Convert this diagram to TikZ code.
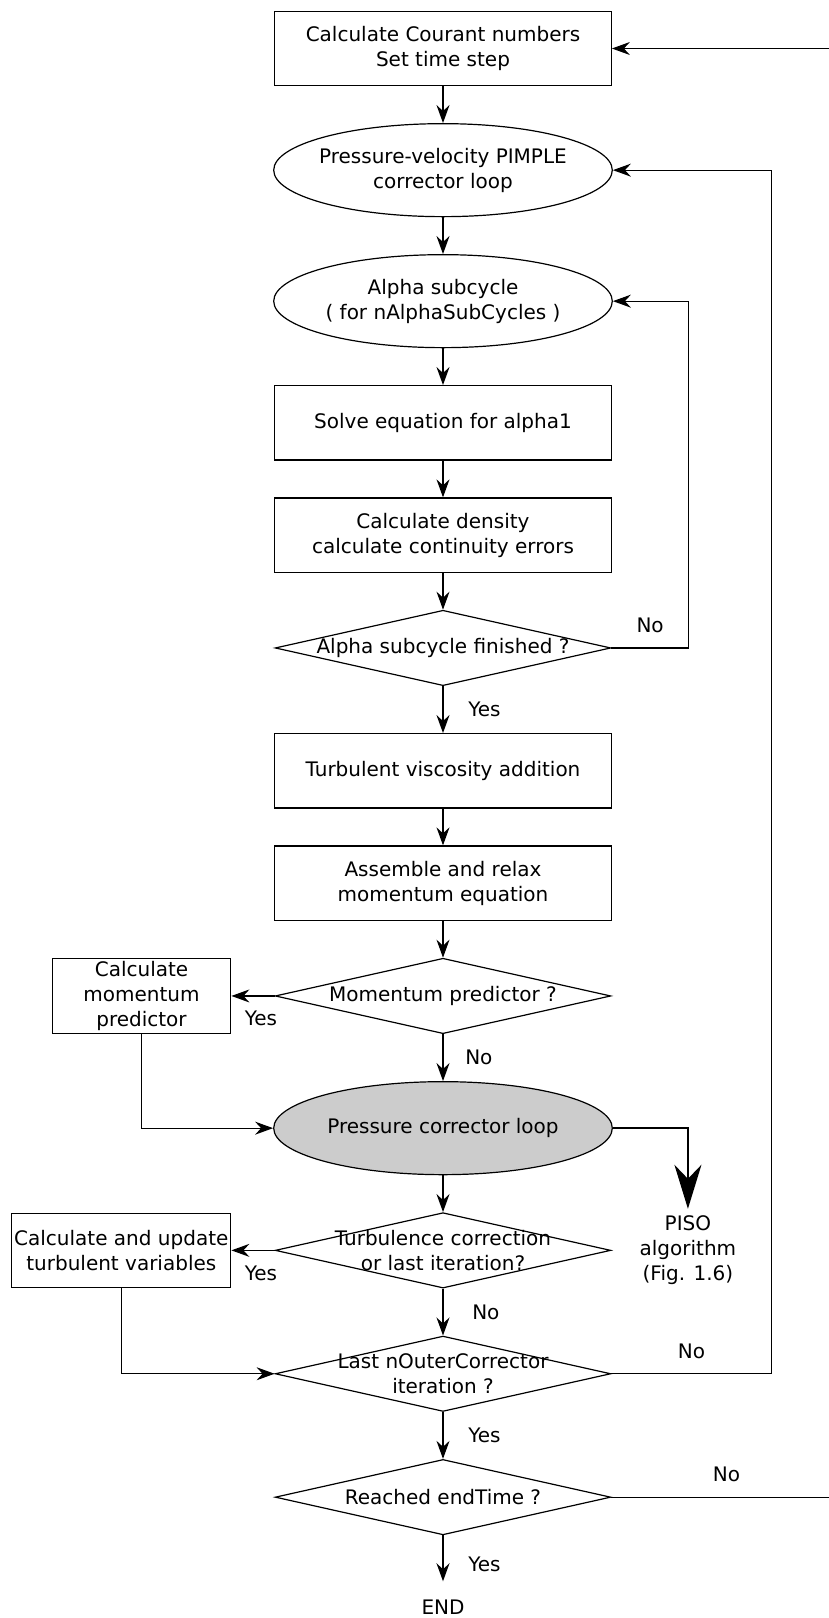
\documentclass[tikz,border=0pt]{standalone}
\usepackage{fontspec}
\setmainfont{DejaVu Sans}
\usetikzlibrary{arrows.meta,shapes.geometric,positioning}
\definecolor{loopgray}{RGB}{204,204,204}

\begin{document}
\begin{tikzpicture}[x=0.5pt, y=-0.5pt, node distance={18.4pt}, line width=0.6pt,
    font=\fontsize{10}{12.4}\selectfont,
    box/.style = {draw, rectangle, align=center, inner sep=1pt, minimum width=168.3pt, minimum height=37.15pt},
    oval/.style = {draw, ellipse, align=center, inner xsep=-3pt, inner ysep=0pt, minimum width=169.3pt, minimum height=46.5pt},
    decision/.style = {draw, diamond, inner sep=0pt, minimum width=167.8pt, minimum height=37.7pt, label={[align=center]center:#1}},
    arr/.style = {-{Stealth[length=9pt, width=6.5pt, inset=3pt]}},
    bigarr/.style = {line width=1pt, -{Stealth[length=22pt, width=13.5pt, inset=7pt]}}]
            \useasboundingbox (0,0) rectangle (829,1618);
            \clip (0,0) rectangle (829,1618);

            \node[box] (courant) at (443,48.5) {Calculate Courant numbers\\Set time step};
            \node[oval] (pimple) [below=of courant] {Pressure-velocity PIMPLE\\corrector loop};
            \node[oval] (alpha) [below=of pimple] {Alpha subcycle\\( for nAlphaSubCycles )};
            \node[box] (solve) [below=of alpha] {Solve equation for alpha1};
            \node[box] (density) [below=of solve] {Calculate density\\calculate continuity errors};
            \node[decision={Alpha subcycle finished ?}] (alphafin) [below=of density] {};
            \node[box] (turbvisc) [below=23.4pt of alphafin] {Turbulent viscosity addition};
            \node[box] (assemble) [below=of turbvisc] {Assemble and relax\\momentum equation};
            \node[decision={Momentum predictor ?}] (mompred) [below=of assemble] {};
            \node[box, minimum width=89.3pt] (calcmom) [left=21.6pt of mompred] {Calculate\\momentum\\predictor};
            \node[oval, fill=loopgray] (pressure) [below=23.4pt of mompred] {Pressure corrector loop};
            \node[decision={Turbulence correction\\or last iteration?}] (turbcorr) [below=of pressure] {};
            \node[box, minimum width=109.5pt] (calcupd) [left=21.6pt of turbcorr] {Calculate and update\\turbulent variables};
            \node[align=center] (piso) [right=10.5pt of turbcorr] {PISO\\algorithm\\(Fig. 1.6)};
            \node[decision={Last nOuterCorrector\\iteration ?}] (lastouter) [below=23.4pt of turbcorr] {};
            \node[decision={Reached endTime ?}] (endtime) [below=23.4pt of lastouter] {};
            \node (finish) [below=28.4pt of endtime] {END};

            \draw[arr] (courant) -- (pimple);
            \draw[arr] (pimple) -- (alpha);
            \draw[arr] (alpha) -- (solve);
            \draw[arr] (solve) -- (density);
            \draw[arr] (density) -- (alphafin);
            \draw[arr] (alphafin) -- node[right=9pt] (yes1) {Yes} (turbvisc);
            \draw[arr] (alphafin.east) -- node[above=4pt] (no1) {No} ++(38.7pt,0) |- (alpha.east);
            \draw[arr] (turbvisc) -- (assemble);
            \draw[arr] (assemble) -- (mompred);
            \draw[arr] (mompred) -- node[below=4pt, xshift=4pt] (yes2) {Yes} (calcmom);
            \draw[arr] (mompred) -- node[right=7.5pt] (no2) {No} (pressure);
            \draw[arr] (calcmom) |- (pressure);
            \draw[bigarr] (pressure) -| (piso);
            \draw[arr] (pressure) -- (turbcorr);
            \draw[arr] (turbcorr) -- node[below=4pt, xshift=4pt] (yes3) {Yes} (calcupd);
            \draw[arr] (turbcorr) -- node[right=11pt] (no3) {No} (lastouter);
            \draw[arr] (calcupd) |- (lastouter);
            \draw[arr] (lastouter) -- node[right=9pt] (yes4) {Yes} (endtime);
            \draw[arr] (lastouter.east) -- node[above=4pt] (no4) {No} ++(80pt,0) |- (pimple.east);
            \draw[arr, shorten >=5.5pt] (endtime) -- node[right=9pt] (yes5) {Yes} (finish);
            \draw[arr] (endtime.east) -- node[above=4pt] (no5) {No} ++(115pt,0) |- (courant.east);

        \end{tikzpicture}
\end{document}
